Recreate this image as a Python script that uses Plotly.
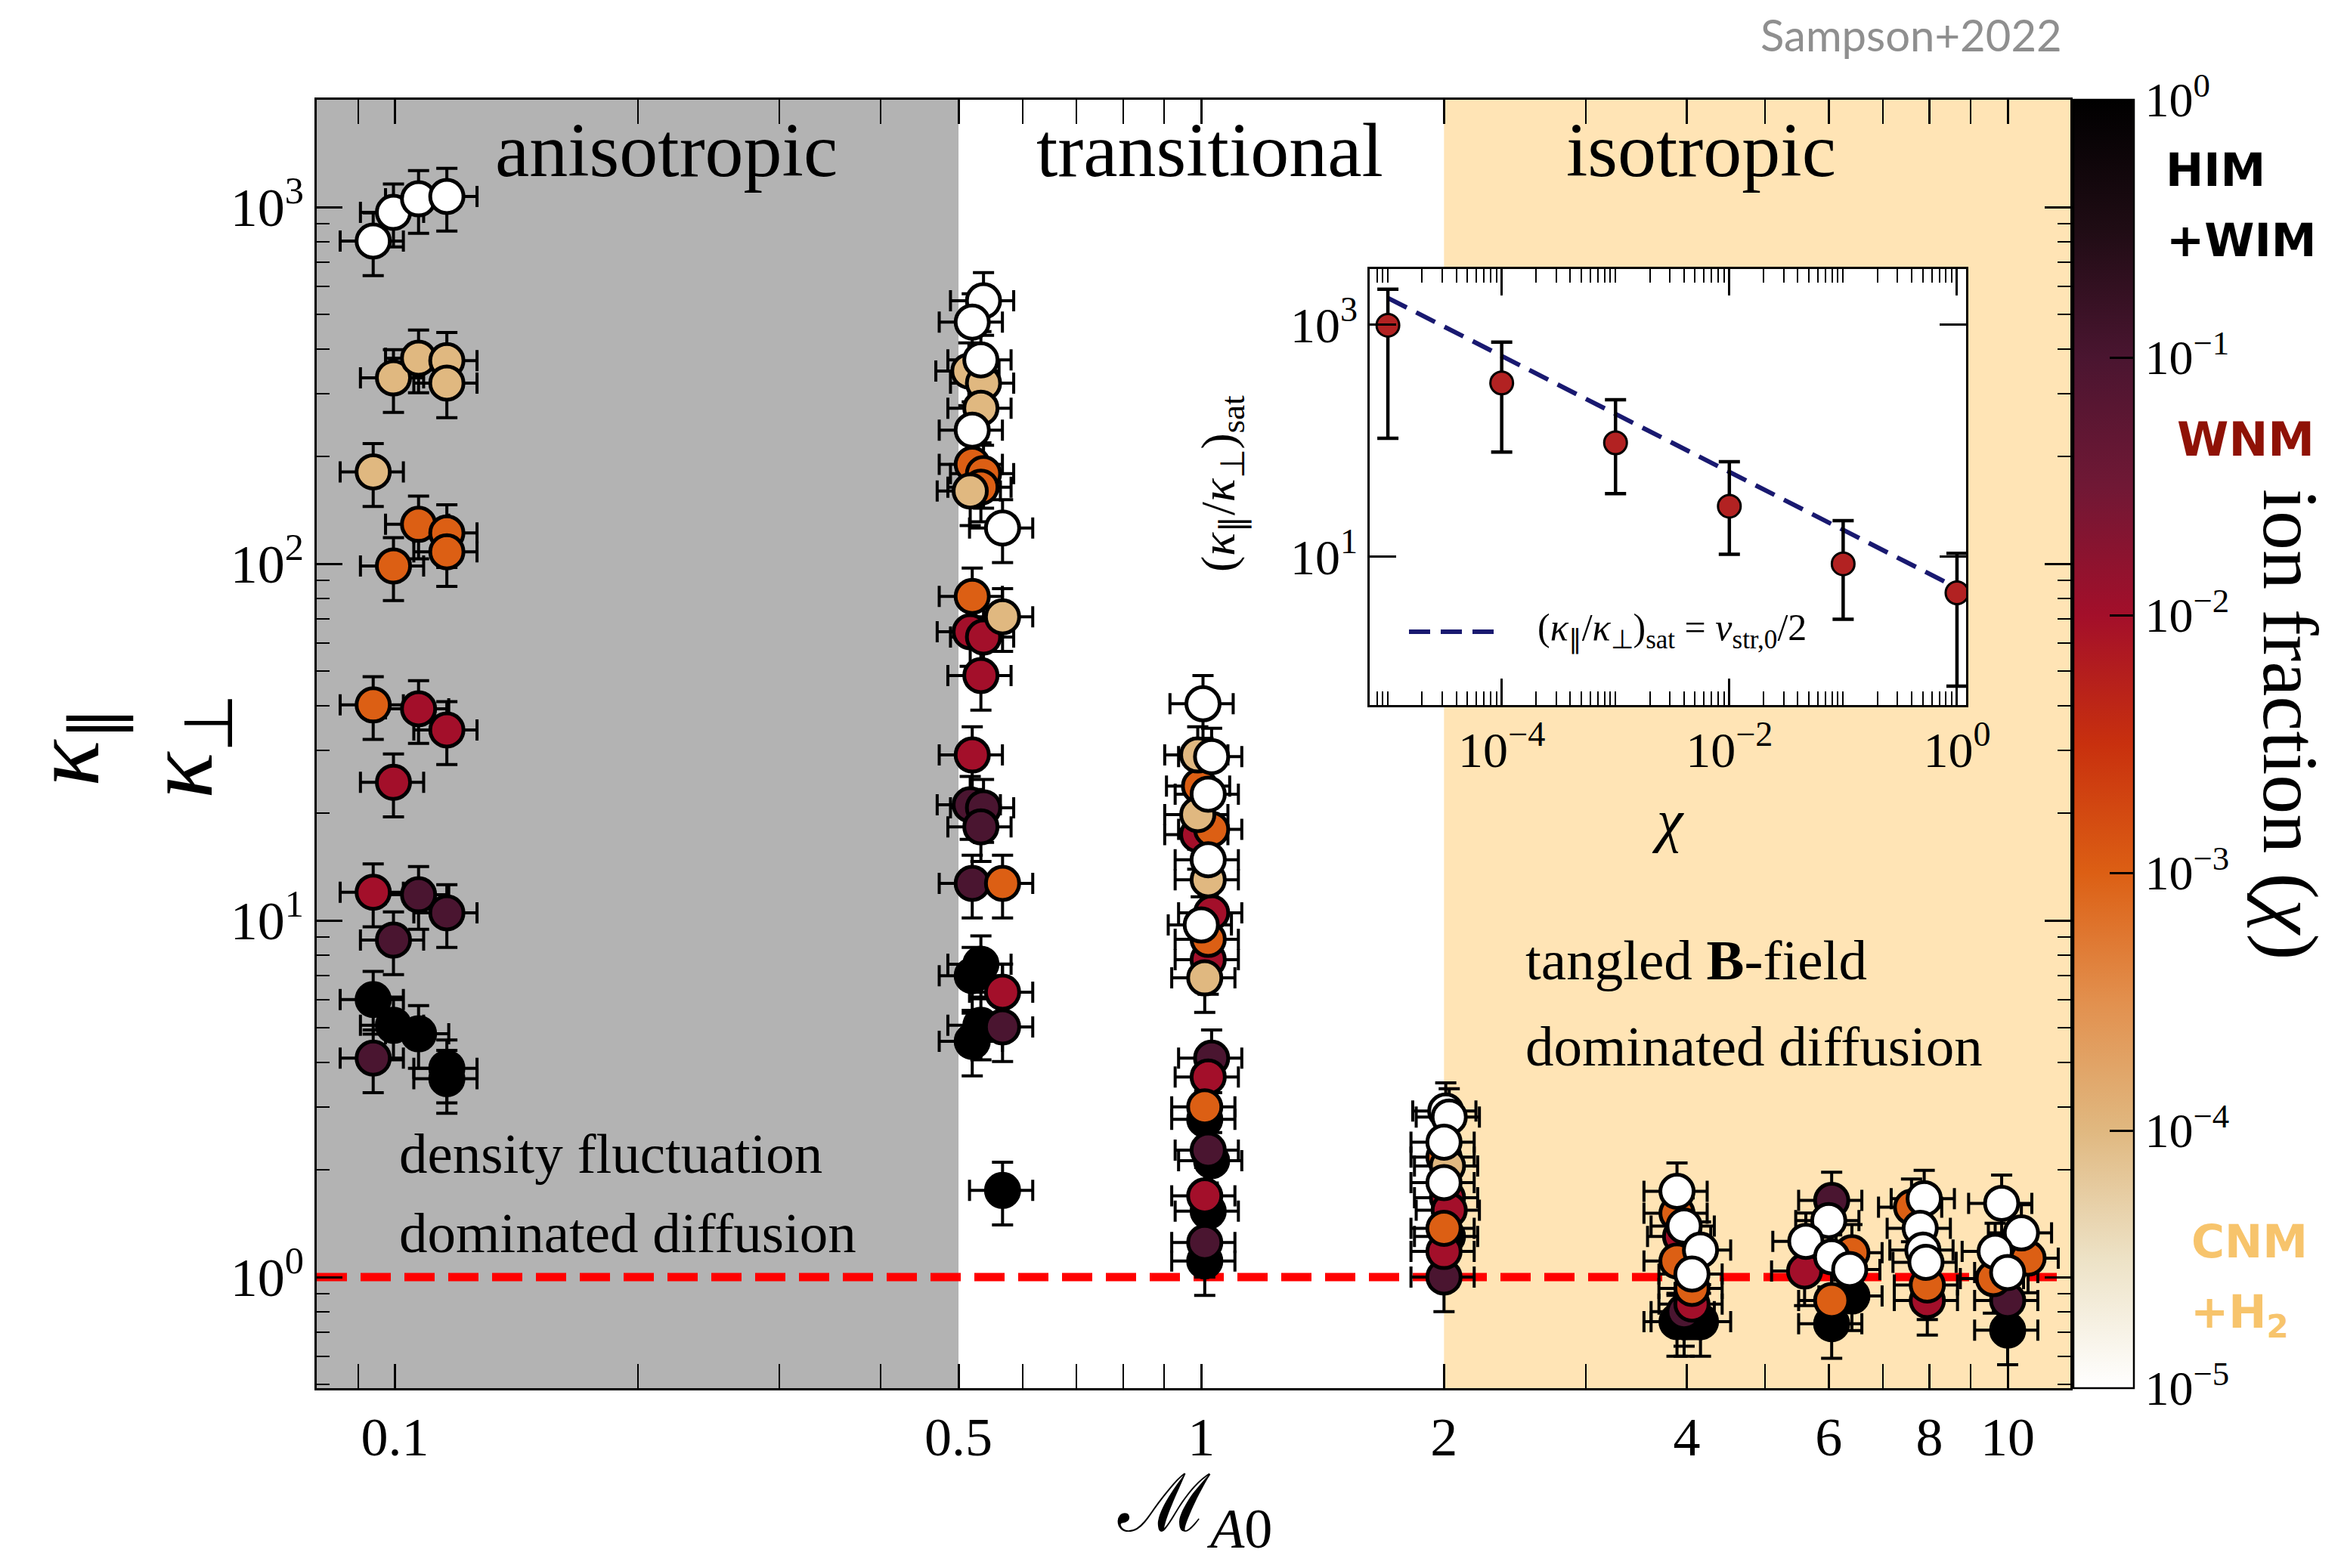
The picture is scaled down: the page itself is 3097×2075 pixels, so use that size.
import numpy as np
import plotly.graph_objects as go

# ---------------- data ----------------
# Main panel: Alfven Mach number, kappa_par/kappa_perp, log10(ion fraction chi)
ma_01 = [0.094, 0.094, 0.094, 0.094, 0.094, 0.094,
         0.0996, 0.0996, 0.0996, 0.0996, 0.0996, 0.0996,
         0.107, 0.107, 0.107, 0.107, 0.107, 0.107,
         0.116, 0.116, 0.116, 0.116, 0.116, 0.116, 0.116, 0.116, 0.116]
k_01 = [803, 181, 40.2, 12.0, 4.11, 6.0,
        967, 332, 98.6, 24.4, 8.81, 5.08,
        1055, 377, 129, 39.2, 11.8, 4.81,
        1071, 371, 122, 34.2, 10.5, 3.85, 321, 108, 3.6]
c_01 = [-5, -4, -3, -2, -1, 0,
        -5, -4, -3, -2, -1, 0,
        -5, -4, -3, -2, -1, 0,
        -5, -4, -3, -2, -1, 0, -4, -3, 0]

ma_05 = [0.537, 0.520, 0.515, 0.533, 0.537, 0.533, 0.520, 0.520, 0.537, 0.533,
         0.517, 0.567, 0.520, 0.567, 0.517, 0.537, 0.533, 0.520, 0.517, 0.537,
         0.533, 0.520, 0.567, 0.533, 0.520, 0.567, 0.533, 0.520, 0.567, 0.567]
k_05 = [546, 476, 347, 373, 321, 273, 237, 190, 179, 164,
        160, 126, 81, 71, 64.5, 62.3, 48.6, 29.1, 21.1, 20.7,
        18.3, 12.7, 12.7, 7.54, 7.0, 6.29, 5.08, 4.58, 5.03, 1.75]
c_05 = [-5, -5, -4, -5, -4, -4, -5, -3, -3, -3,
        -4, -5, -3, -4, -2, -2, -2, -2, -1, -1,
        -1, -1, -3, 0, 0, -2, 0, 0, -1, 0]

ma_1 = [1.005, 0.99, 1.03, 0.995, 1.02, 0.99, 0.99, 1.03, 1.02, 1.02,
        1.03, 1.0, 1.02, 1.02, 1.01, 1.03, 1.02, 1.01, 1.01, 1.02,
        1.03, 1.01, 1.02, 1.01, 1.01]
k_1 = [40.5, 29.1, 28.8, 23.8, 22.6, 19.8, 17.4, 18.0, 14.8, 13.0,
       10.5, 9.71, 8.85, 7.76, 6.9, 4.11, 3.64, 3.0, 2.77, 2.27,
       2.12, 1.69, 1.53, 1.25, 1.11]
c_1 = [-5, -4, -5, -3, -5, -4, -2, -3, -5, -4,
       -2, -5, -3, -2, -4, -1, -2, -3, 0, -1,
       0, -2, 0, -1, 0]

ma_2 = [2.01, 2.03, 2.0, 2.0, 2.0, 2.02, 2.03, 2.0, 2.0, 2.0, 2.02, 2.02]
k_2 = [2.92, 2.81, 2.39, 2.17, 1.84, 1.67, 1.54, 1.37, 1.18, 1.0, 1.3, 2.05]
c_2 = [-5, -5, -5, -3, -5, -2, -2, -3, -2, -1, 0, -4]

ma_4 = [3.89, 3.97, 4.16, 4.06, 3.89, 3.89, 4.06, 4.06, 3.93, 3.89, 3.97, 4.16, 3.97]
k_4 = [1.74, 1.39, 1.19, 1.02, 1.51, 1.11, 0.93, 0.84, 1.30, 0.75, 0.75, 0.75, 0.80]
c_4 = [-5, -5, -5, -5, -3, -3, -3, -2, -2, 0, 0, 0, -1]

ma_6 = [6.05, 6.0, 5.62, 6.05, 6.37, 5.60, 6.41, 6.05, 6.41, 6.05]
k_6 = [1.64, 1.44, 1.26, 1.14, 1.05, 1.04, 1.17, 0.86, 0.885, 0.74]
c_6 = [-1, -5, -5, -5, -5, -2, -3, -3, 0, 0]

ma_8 = [7.88, 7.79, 7.85, 7.92, 7.6, 7.95, 7.95]
k_8 = [1.66, 1.37, 1.19, 1.10, 1.57, 0.95, 0.86]
c_8 = [-5, -5, -5, -5, -3, -3, -2]

ma_10 = [9.83, 10.4, 9.65, 10.0, 9.6, 10.6, 10.0, 10.0]
k_10 = [1.61, 1.33, 1.18, 1.03, 0.99, 1.13, 0.86, 0.71]
c_10 = [-5, -5, -5, -5, -3, -3, -1, 0]

REL_XERR = 0.09   # fractional uncertainty on M_A0
REL_YERR = 0.20   # fractional uncertainty on kappa ratio

# Inset: saturated ratio vs ion fraction
inset_chi = [1e-5, 1e-4, 1e-3, 1e-2, 1e-1, 1.0]
inset_ratio = [990, 315, 96, 27.3, 8.7, 4.9]
inset_upper = [2022, 708, 226, 66, 20.5, 10.7]
inset_lower = [105, 80, 35, 10.5, 2.9, 0.77]
model_chi = [1e-5, 1.0]
model_ratio = [1700, 5.4]

# regime boundaries in M_A0
ANISO_MAX = 0.5
ISO_MIN = 2.0

x_ticks = [0.1, 0.5, 1, 2, 4, 6, 8, 10]
x_ticktext = ["0.1", "0.5", "1", "2", "4", "6", "8", "10"]
y_ticks = [1, 10, 100, 1000]
y_ticktext = ["10<sup>0</sup>", "10<sup>1</sup>", "10<sup>2</sup>", "10<sup>3</sup>"]
cb_ticks = [-5, -4, -3, -2, -1, 0]
cb_ticktext = ["10<sup>−5</sup>", "10<sup>−4</sup>", "10<sup>−3</sup>",
               "10<sup>−2</sup>", "10<sup>−1</sup>", "10<sup>0</sup>"]

# ---------------- geometry ----------------
W, H = 3097, 2075
ML, MR, MT, MB = 411, 200, 124, 246
PW = W - ML - MR
PH = H - MT - MB


def px(X):
    return (X - ML) / PW


def py(Y):
    return 1 - (Y - MT) / PH


XRANGE = [np.log10(0.08), 1.0778]
YRANGE = [-0.3114, 3.301]
XMIN, XMAX = 10 ** XRANGE[0], 10 ** XRANGE[1]

SERIF = "Liberation Serif"

colorscale = [
    [0.0, "#ffffff"], [0.1, "#ede2c6"], [0.2, "#e0b880"], [0.3, "#e2904e"],
    [0.4, "#dc5f14"], [0.5, "#c8300e"], [0.6, "#a30f2a"], [0.7, "#701835"],
    [0.8, "#4a1530"], [0.9, "#1f0c14"], [1.0, "#000000"],
]

ma = np.array(ma_01 + ma_05 + ma_1 + ma_2 + ma_4 + ma_6 + ma_8 + ma_10, float)
kr = np.array(k_01 + k_05 + k_1 + k_2 + k_4 + k_6 + k_8 + k_10, float)
lc = np.array(c_01 + c_05 + c_1 + c_2 + c_4 + c_6 + c_8 + c_10, float)
order = np.argsort(-lc, kind="stable")
ma, kr, lc = ma[order], kr[order], lc[order]

fig = go.Figure()

fig.add_trace(go.Scatter(
    x=ma, y=kr, mode="markers",
    error_x=dict(type="data", array=ma * REL_XERR, color="black", thickness=4, width=14),
    error_y=dict(type="data", array=kr * REL_YERR, color="black", thickness=4, width=14),
    marker=dict(
        size=44, color=lc, colorscale=colorscale, cmin=-5, cmax=0,
        line=dict(color="black", width=5),
        colorbar=dict(
            x=px(2735), xanchor="left", xpad=0, ypad=0,
            y=0.5, yanchor="middle", len=1, lenmode="fraction",
            thickness=80, outlinewidth=2.5, outlinecolor="black",
            tickmode="array", tickvals=cb_ticks, ticktext=cb_ticktext,
            ticks="inside", ticklen=33, tickwidth=2.5, tickcolor="black",
            tickfont=dict(family=SERIF, size=64, color="black"),
        ),
    ),
    showlegend=False, hoverinfo="skip",
))

# inset
inset_ratio_a = np.array(inset_ratio)
fig.add_trace(go.Scatter(
    x=model_chi, y=model_ratio, mode="lines", xaxis="x2", yaxis="y2",
    line=dict(color="#191970", width=6, dash="28px,14px"),
    showlegend=False, hoverinfo="skip",
))
fig.add_trace(go.Scatter(
    x=inset_chi, y=inset_ratio, mode="markers", xaxis="x2", yaxis="y2",
    error_y=dict(type="data", symmetric=False,
                 array=np.array(inset_upper) - inset_ratio_a,
                 arrayminus=inset_ratio_a - np.array(inset_lower),
                 color="black", thickness=4.5, width=14),
    marker=dict(size=30, color="#b22222", line=dict(color="black", width=3)),
    showlegend=False, hoverinfo="skip",
))

# dummy trace carrying the colorbar minor-tick axis
fig.add_trace(go.Scatter(x=[None], y=[None], xaxis="x", yaxis="y3",
                         showlegend=False, hoverinfo="skip"))

main_minor_x = [0.08, 0.09, 0.2, 0.3, 0.4, 0.6, 0.7, 0.8, 0.9, 3, 5, 7, 9]
main_minor_y = [m * 10 ** d for d in range(-1, 4) for m in range(2, 10)]
inset_minor_x = [m * 10 ** d for d in range(-6, 1) for m in range(1, 10)
                 if not (m == 1 and d in (-4, -2, 0))]
cb_minor = [m * 10 ** d for d in range(-5, 0) for m in range(2, 10)]

axis_common = dict(showgrid=False, zeroline=False, showline=True, linecolor="black",
                   linewidth=2.5, mirror="allticks", ticks="inside", tickcolor="black",
                   tickwidth=2.5)

fig.update_layout(
    width=W, height=H,
    margin=dict(l=ML, r=MR, t=MT, b=MB, pad=0),
    paper_bgcolor="white", plot_bgcolor="white",
    showlegend=False,
    xaxis=dict(**axis_common, type="log", range=XRANGE, domain=[0, px(2731)],
               anchor="y", tickmode="array", tickvals=x_ticks, ticktext=x_ticktext,
               ticklen=32, tickfont=dict(family=SERIF, size=72, color="black"),
               minor=dict(tickmode="array", tickvals=main_minor_x, ticks="inside",
                          ticklen=17, tickwidth=2, tickcolor="black")),
    yaxis=dict(**axis_common, type="log", range=YRANGE, domain=[0, 1], anchor="x",
               tickmode="array", tickvals=y_ticks, ticktext=y_ticktext,
               ticklen=34, tickfont=dict(family=SERIF, size=72, color="black"),
               minor=dict(tickmode="array", tickvals=main_minor_y, ticks="inside",
                          ticklen=17, tickwidth=2, tickcolor="black")),
    yaxis3=dict(type="log", range=[-5, 0], overlaying="y", anchor="free",
                position=px(2815), side="left", showgrid=False, zeroline=False,
                showline=False, showticklabels=False, tickmode="array",
                tickvals=cb_minor, ticks="outside", ticklen=16, tickwidth=2,
                tickcolor="black"),
    xaxis2=dict(**axis_common, type="log", range=[-5.16, 0.08],
                domain=[px(1804), px(2593)], anchor="y2", tickmode="array",
                tickvals=[1e-4, 1e-2, 1], ticktext=["10<sup>−4</sup>", "10<sup>−2</sup>", "10<sup>0</sup>"],
                ticklen=35, tickfont=dict(family=SERIF, size=66, color="black"),
                minor=dict(tickmode="array", tickvals=inset_minor_x, ticks="inside",
                           ticklen=18, tickwidth=2, tickcolor="black")),
    yaxis2=dict(**axis_common, type="log", range=[-0.277, 3.48],
                domain=[py(925), py(348)], anchor="x2", tickmode="array",
                tickvals=[10, 1000], ticktext=["10<sup>1</sup>", "10<sup>3</sup>"],
                ticklen=35, tickfont=dict(family=SERIF, size=66, color="black")),
)

shapes = [
    dict(type="rect", xref="x", yref="y domain", x0=XMIN, x1=ANISO_MAX, y0=0, y1=1,
         fillcolor="#b3b3b3", line=dict(width=0), layer="below"),
    dict(type="rect", xref="x", yref="y domain", x0=ISO_MIN, x1=XMAX, y0=0, y1=1,
         fillcolor="#ffe4b5", line=dict(width=0), layer="below"),
    dict(type="line", xref="x domain", yref="y", x0=0, x1=1, y0=1, y1=1,
         line=dict(color="#ff0000", width=11, dash="40px,18px"), layer="below"),
    dict(type="rect", xref="x2 domain", yref="y2 domain", x0=0, x1=1, y0=0, y1=1,
         fillcolor="white", line=dict(width=0), layer="below"),
    # inset legend sample
    dict(type="line", xref="paper", yref="paper", x0=px(1856), x1=px(1972),
         y0=py(828), y1=py(828), line=dict(color="#191970", width=6, dash="28px,14px")),
]
fig.update_layout(shapes=shapes)

ann = []


def add_text(text, X, Y, size, family=SERIF, color="black", xanchor="center",
             yanchor="middle", angle=0):
    ann.append(dict(text=text, x=px(X), y=py(Y), xref="paper", yref="paper",
                    showarrow=False, xanchor=xanchor, yanchor=yanchor, textangle=angle,
                    font=dict(family=family, size=size, color=color)))


# regime labels
add_text("anisotropic", 873, 190, 102)
add_text("transitional", 1592, 190, 102)
add_text("isotropic", 2242, 190, 102)
add_text("density fluctuation", 518, 1518, 75, xanchor="left")
add_text("dominated diffusion", 518, 1623, 75, xanchor="left")
add_text("tangled <b>B</b>-field", 2008, 1262, 75, xanchor="left")
add_text("dominated diffusion", 2008, 1376, 75, xanchor="left")

# axis titles
add_text("<i>κ</i><sub>∥</sub>", 88, 980, 128, angle=-90)
add_text("<i>κ</i><sub>⊥</sub>", 238, 980, 128, angle=-90)
add_text("ℳ<sub><i>A</i>0</sub>", 1572, 1990, 106)

# inset titles + legend text
add_text("<i>χ</i>", 2198, 1077, 78)
add_text("(<i>κ</i><sub>∥</sub>/<i>κ</i><sub>⊥</sub>)<sub>sat</sub>", 1608, 632, 64, angle=-90)
add_text("(<i>κ</i><sub>∥</sub>/<i>κ</i><sub>⊥</sub>)<sub>sat</sub> = <i>v</i><sub>str,0</sub>/2",
         2024, 826, 50, xanchor="left")

# colorbar side labels
add_text("ion fraction (<i>χ</i>)", 3022, 950, 104, angle=90)
add_text("HIM", 2923, 217, 60, family="DejaVu Sans")
add_text("+WIM", 2957, 310, 60, family="DejaVu Sans")
add_text("WNM", 2963, 573, 62, family="DejaVu Sans", color="#8f1206")
add_text("CNM", 2968, 1635, 60, family="DejaVu Sans", color="#f7c46c")
add_text("+H<sub>2</sub>", 2955, 1732, 60, family="DejaVu Sans", color="#f7c46c")
for a in ann[-5:]:
    a["text"] = "<b>" + a["text"] + "</b>"

# credit
add_text("Sampson+2022", 2520, 37, 58, family="Lato", color="#8f8f8f")

fig.update_layout(annotations=ann)

fig.write_html("out.html")
